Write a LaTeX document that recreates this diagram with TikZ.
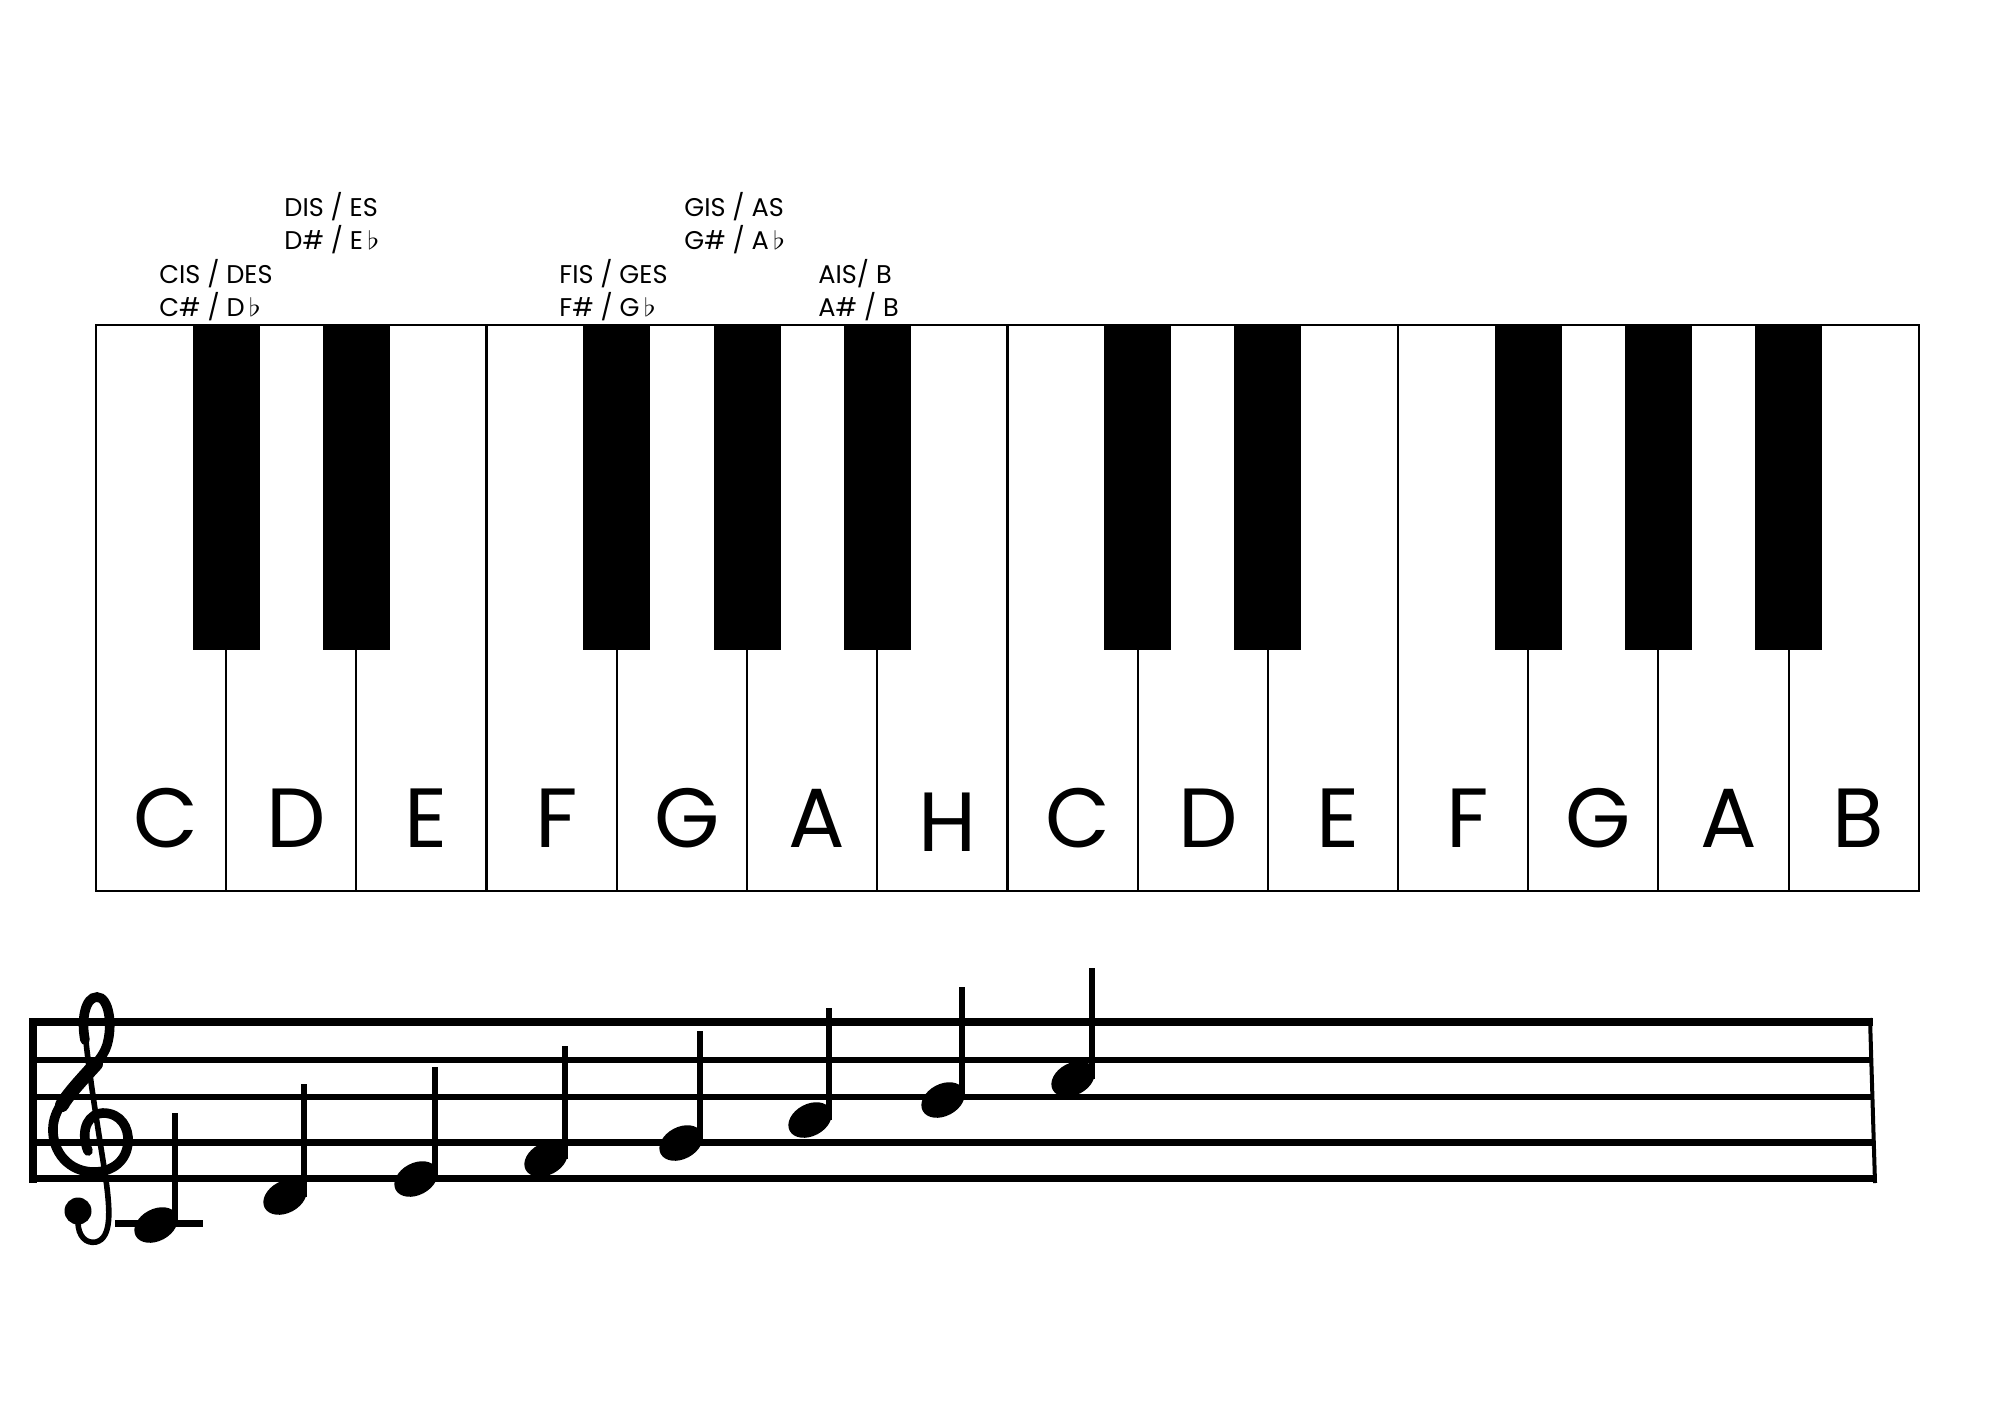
\documentclass[tikz,border=0pt]{standalone}
\usepackage{fontspec}
\usepackage{graphicx}
\setmainfont{Poppins}
\newcommand{\flt}{\,\scalebox{1.3}[1.05]{$\flat$}}
\begin{document}
\begin{tikzpicture}[x=0.5pt,y=-0.5pt,
  keyletter/.style={font=\fontsize{42}{50}\selectfont, anchor=base, inner sep=0pt},
  acclabel/.style={font=\fontsize{12.8}{16}\selectfont, anchor=base west, inner sep=0pt},
  thinkey/.style={line width=1.0pt},
  thickkey/.style={line width=1.3pt},
  staffline/.style={line width=3.3pt},
  stemline/.style={line width=3pt},
  notehead/.style={fill=black}]
\fill[white] (0,0) rectangle (2000,1414);
\useasboundingbox (0,0) rectangle (2000,1414);

% ---------- keyboard ----------
\foreach \k in {1,2,4,5,6,8,9,11,12,13}
  \draw[thinkey] ({96+130.2*\k},325) -- ({96+130.2*\k},891);
\foreach \k in {3,10}
  \draw[thickkey] ({96+130.2*\k},325) -- ({96+130.2*\k},891);
\draw[thickkey] (96,325) rectangle (1007.4,891);
\draw[thickkey] (1007.4,325) rectangle (1919,891);
\foreach \k in {1,2,4,5,6,8,9,11,12,13}
  \fill ({96+130.2*\k-33.5},325) rectangle ({96+130.2*\k+33.5},650);

% white key letters
\foreach \n/\yy [count=\i from 0] in {C/847,D/847,E/847,F/847,G/847,A/847,H/851,C/847,D/847,E/847,F/847,G/847,A/847,B/847}
  \node[keyletter] (w\i) at ({101+130.2*(\i+0.5)},\yy) {\n};

% accidental labels
\node[acclabel] (cis1) at (159,283) {CIS / DES};
\node[acclabel] (cis2) at (159,316) {C\# / D\flt};
\node[acclabel] (dis1) at (284,216.7) {DIS / ES};
\node[acclabel] (dis2) at (284,249) {D\# / E\flt};
\node[acclabel] (fis1) at (559,283) {FIS / GES};
\node[acclabel] (fis2) at (559,316) {F\# / G\flt};
\node[acclabel] (gis1) at (684,216.7) {GIS / AS};
\node[acclabel] (gis2) at (684,249) {G\# / A\flt};
\node[acclabel] (ais1) at (818,283) {AIS/ B};
\node[acclabel] (ais2) at (818,316) {A\# / B};

% ---------- staff ----------
\draw[line width=3.7pt] (33,1022) -- (1873,1022);
\draw[staffline] (33,1060) -- (1873,1060);
\draw[staffline] (33,1097) -- (1873,1097);
\draw[staffline] (33,1142.5) -- (1873,1142.5);
\draw[line width=3.9pt] (33,1178.5) -- (716,1178.5);
\draw[staffline] (716,1178.5) -- (1873,1178.5);
\draw[line width=4pt] (33,1018) -- (33,1183);
\draw[line width=2pt] (1870,1018) -- (1875,1183);

% treble clef
\fill (78,1211) circle [radius=13.5];
\draw[line width=4.8pt, line cap=round]
  (88,1151) .. controls (79,1128) and (90,1113) .. (103,1113)
  .. controls (121,1113) and (129,1128) .. (128,1142)
  .. controls (127,1161) and (112,1172) .. (94,1172)
  .. controls (69,1172) and (52,1152) .. (53,1128)
  .. controls (54,1095) and (100,1070) .. (107,1045)
  .. controls (113,1025) and (109,997) .. (97,997)
  .. controls (85,997) and (81,1020) .. (85,1040);
\draw[line width=7pt, line cap=round] (62,1105) .. controls (68,1094) and (86,1075) .. (96,1064);
\draw[line width=2.8pt]
  (85,1030) .. controls (88,1070) and (100,1140) .. (106,1180)
  .. controls (110,1210) and (112,1238) .. (96,1242)
  .. controls (86,1244) and (78,1236) .. (78,1222);

% ledger line
\draw[line width=3.5pt] (115,1223.5) -- (203,1223.5);

% notes
\foreach \cx/\cy/\top [count=\j] in {156/1225/1113,285/1197/1084,416/1179/1067,546/1159/1046,681/1143/1031,810/1120/1008,943/1100/987,1073/1079/968}{
  \fill[notehead, rotate around={28:(\cx,\cy)}] (\cx,\cy) ellipse [x radius=23, y radius=16];
  \draw[stemline] ({\cx+19},\cy) -- ({\cx+19},\top);
}
\end{tikzpicture}
\end{document}
